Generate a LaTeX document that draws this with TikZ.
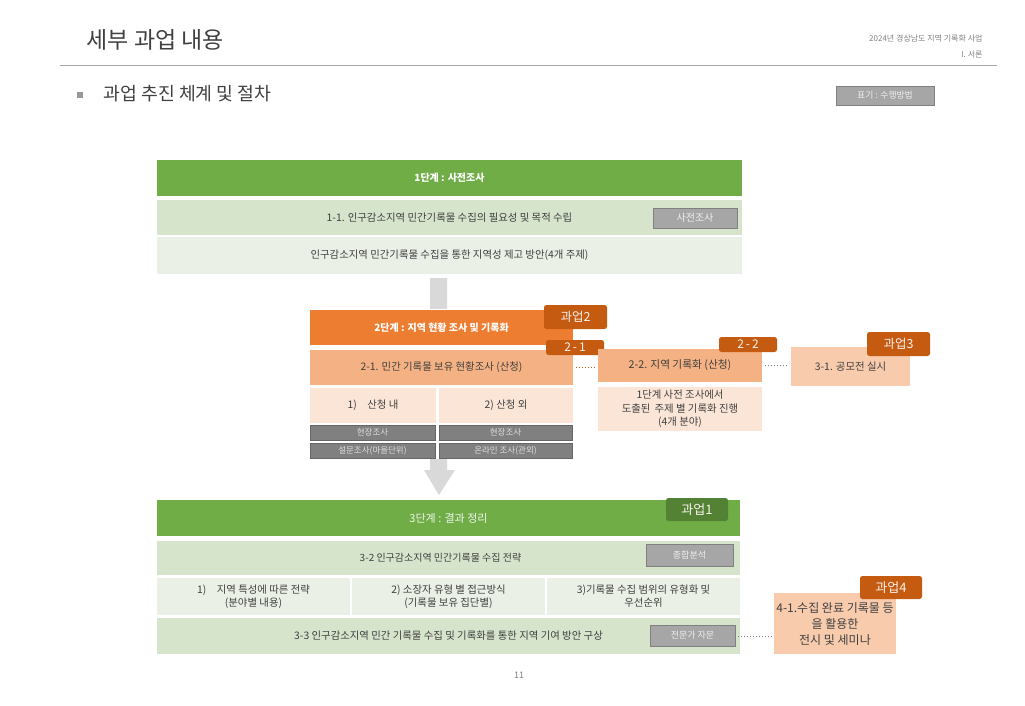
\documentclass[tikz,border=0pt]{standalone}
\usepackage{fontspec}
\setmainfont{Noto Sans CJK KR}
\usetikzlibrary{positioning}
\definecolor{gbar}{HTML}{70AD47}
\definecolor{gdark}{HTML}{548235}
\definecolor{glight}{HTML}{D6E4CC}
\definecolor{gpale}{HTML}{EAF0E6}
\definecolor{obar}{HTML}{ED7D31}
\definecolor{otag}{HTML}{C55A11}
\definecolor{omid}{HTML}{F4B183}
\definecolor{opale}{HTML}{FBE5D6}
\definecolor{olight}{HTML}{F8CBAD}
\definecolor{txt}{HTML}{404040}
\definecolor{gbox}{HTML}{A6A6A6}
\definecolor{gboxd}{HTML}{808080}
\definecolor{arrowgray}{HTML}{D9D9D9}
\newcommand{\fs}[2]{\fontsize{#1}{#2}\selectfont}
\tikzset{
  cell/.style={anchor=north west, inner sep=0pt, outer sep=0pt, align=center, text=txt, font=\fs{10.4}{13}},
  tagbox/.style={anchor=north west, inner sep=0pt, outer sep=0pt, fill=otag, rounded corners=2.5pt, text=white!92!otag, font=\fs{12.5}{14}},
  graybox/.style={anchor=north west, inner sep=0pt, outer sep=0pt, fill=gbox, draw=gboxd, line width=1pt, text=white!88!gray, font=\fs{9}{10}},
  darkbox/.style={anchor=north west, inner sep=0pt, outer sep=0pt, fill=gboxd, draw=black!60, line width=0.8pt, text=white!75!gray, font=\fs{8.5}{9}},
  dots/.style={dotted, line width=1pt},
}
\begin{document}
\begin{tikzpicture}[x=1pt,y=-1pt]
\useasboundingbox (0,0) rectangle (1025,705);
% header
\node[anchor=west, text=txt, font=\fs{23}{27}] (title) at (83,40) {세부 과업 내용};
\node[anchor=east, text=gray, font=\fs{8}{9}] (hdr1) at (986,38) {2024년 경상남도 지역 기록화 사업};
\node[anchor=east, text=gray, font=\fs{8}{9}] (hdr2) at (986,55) {I. 서론};
\draw[gray!70, line width=0.8pt] (60,65) -- (997,65);
\node[fill=gray!80, minimum size=6pt, inner sep=0pt] (bul) at (80,95) {};
\node[anchor=west, text=txt, font=\fs{18.3}{21}] (sub) at (100,94) {과업 추진 체계 및 절차};
\node[graybox, font=\fs{8.8}{10}, minimum width=98pt, minimum height=19pt] (legend) at (836,86) {표기 : 수행방법};
% big gray arrow (behind), hidden behind the stage-2 block
\fill[arrowgray] (430,278) -- (447,278) -- (447,470) -- (455,470) -- (439,495) -- (424,470) -- (430,470) -- cycle;
\fill[white] (310,309) rectangle (573,459);
% stage 1
\node[cell, fill=gbar, text=white, font=\bfseries\fs{10}{12}, minimum width=585pt, minimum height=36pt] (s1) at (157,160) {1단계 : 사전조사};
\node[cell, fill=glight, minimum width=585pt, minimum height=35pt] (s11) at (157,200) {1-1. 인구감소지역 민간기록물 수집의 필요성 및 목적 수립};
\node[graybox, font=\fs{10}{11}, minimum width=84pt, minimum height=20pt] (g1) at (653,208) {사전조사};
\node[cell, fill=gpale, minimum width=585pt, minimum height=37pt] (s12) at (157,237) {인구감소지역 민간기록물 수집을 통한 지역성 제고 방안(4개 주제)};
% stage 2
\node[cell, fill=obar, text=white, font=\bfseries\fs{10}{12}, minimum width=263pt, minimum height=35pt] (s2) at (310,310) {2단계 : 지역 현황 조사 및 기록화};
\node[cell, fill=omid, minimum width=263pt, minimum height=35pt] (s21) at (310,350) {2-1. 민간 기록물 보유 현황조사 (산청)};
\node[tagbox, minimum width=63pt, minimum height=24pt] (t2) at (544,305) {과업2};
\node[tagbox, font=\fs{12}{13}, minimum width=58pt, minimum height=15pt] (t21) at (546,340) {2{\,}-{\,}1};
\node[cell, fill=opale, minimum width=126pt, minimum height=35pt] (c1) at (310,388) {1)\quad 산청 내};
\node[cell, fill=opale, minimum width=134pt, minimum height=35pt] (c2) at (439,388) {2) 산청 외};
\node[darkbox, minimum width=125pt, minimum height=15pt] (d1) at (310,425) {현장조사};
\node[darkbox, minimum width=133pt, minimum height=15pt] (d2) at (439,425) {현장조사};
\node[darkbox, minimum width=125pt, minimum height=15pt] (d3) at (310,443) {설문조사(마을단위)};
\node[darkbox, minimum width=133pt, minimum height=15pt] (d4) at (439,443) {온라인 조사(관외)};
% 2-2
\node[cell, fill=omid, font=\fs{10.7}{13}, minimum width=164pt, minimum height=33pt] (s22) at (598,349) {2-2. 지역 기록화 (산청)};
\node[tagbox, font=\fs{12}{13}, minimum width=58pt, minimum height=15pt] (t22) at (719,337) {2{\,}-{\,}2};
\node[cell, fill=opale, minimum width=164pt, minimum height=44pt, font=\fs{10.4}{13.5}] (s22b) at (598,387) {1단계 사전 조사에서\\도출된 \,주제 별 기록화 진행\\(4개 분야)};
% 3-1
\node[cell, fill=olight, minimum width=119pt, minimum height=39pt] (s31) at (791,347) {3-1. 공모전 실시};
\node[tagbox, minimum width=63pt, minimum height=24pt] (t3) at (867,332) {과업3};
\draw[dots, otag] ([xshift=3pt]s21.east |- 0,367) -- ([xshift=-2pt]s22.west |- 0,367);
\draw[dots, gray] ([xshift=3pt]s22.east) -- ([xshift=-2pt]s31.west |- s22.east);
% stage 3
\node[cell, fill=gbar, text=white!88!gbar, font=\fs{11}{13}, minimum width=583pt, minimum height=36pt] (s3) at (157,500) {3단계 : 결과 정리};
\node[tagbox, fill=gdark, minimum width=62pt, minimum height=23pt, font=\fs{13}{15}] (t1) at (666,498) {과업1};
\node[cell, fill=glight, font=\fs{10}{12}, minimum width=583pt, minimum height=34pt] (s32) at (157,541) {\hspace*{-16pt}3-2 인구감소지역 민간기록물 수집 전략};
\node[graybox, minimum width=87pt, minimum height=22pt] (g2) at (646,544) {종합분석};
\node[cell, fill=gpale, minimum width=193pt, minimum height=37pt] (e1) at (157,578) {1)\quad 지역 특성에 따른 전략\\(분야별 내용)};
\node[cell, fill=gpale, minimum width=193pt, minimum height=37pt] (e2) at (352,578) {2) 소장자 유형 별 접근방식\\(기록물 보유 집단별)};
\node[cell, fill=gpale, minimum width=193pt, minimum height=37pt] (e3) at (547,578) {3)기록물 수집 범위의 유형화 및\\우선순위};
\node[cell, fill=glight, minimum width=583pt, minimum height=36pt] (s33) at (157,618) {3-3 인구감소지역 민간 기록물 수집 및 기록화를 통한 지역 기여 방안 구상};
\node[graybox, minimum width=85pt, minimum height=21pt] (g3) at (650,625) {전문가 자문};
% 4-1
\node[cell, fill=olight, minimum width=122pt, minimum height=61pt, font=\fs{12}{16}] (s41) at (774,593) {4-1.수집 완료 기록물 등\\을 활용한\\전시 및 세미나};
\node[tagbox, minimum width=62pt, minimum height=23pt, font=\fs{13}{15}] (t4) at (860,576) {과업4};
\draw[dots, gray] ([xshift=3pt]g3.east |- 0,636) -- ([xshift=-1pt]s41.west |- 0,636);
% page number
\node[text=gray, font=\fs{9}{11}] (pg) at (519,675) {11};
\end{tikzpicture}
\end{document}
